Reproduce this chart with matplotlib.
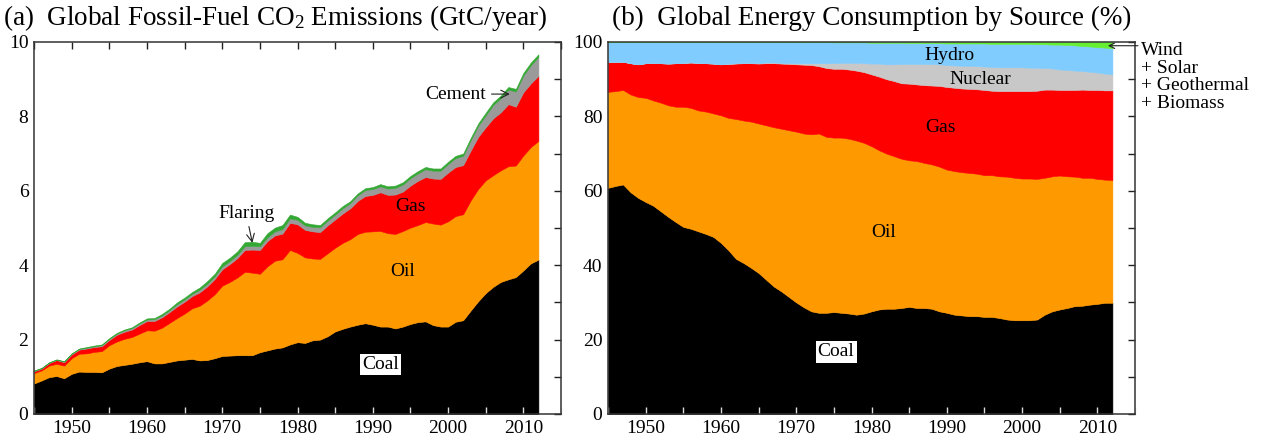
import numpy as np
import matplotlib
matplotlib.use('Agg')
import matplotlib.pyplot as plt
from matplotlib.ticker import MultipleLocator

plt.rcParams['font.family'] = ['Liberation Serif', 'DejaVu Serif']
plt.rcParams['mathtext.fontset'] = 'custom'
plt.rcParams['mathtext.rm'] = 'Liberation Serif'
plt.rcParams['mathtext.it'] = 'Liberation Serif:italic'

# ==================== data ====================
years = list(range(1945, 2013))

# (a) fossil-fuel CO2 emissions, GtC/year
coal = [0.82, 0.90, 0.99, 1.02, 0.96, 1.08, 1.14, 1.13, 1.13, 1.12,
        1.22, 1.29, 1.32, 1.35, 1.39, 1.42, 1.36, 1.36, 1.40, 1.44,
        1.46, 1.48, 1.44, 1.45, 1.50, 1.56, 1.57, 1.58, 1.58, 1.58,
        1.66, 1.71, 1.76, 1.79, 1.87, 1.93, 1.91, 1.98, 2.00, 2.09,
        2.22, 2.29, 2.35, 2.40, 2.44, 2.40, 2.35, 2.35, 2.30, 2.35,
        2.42, 2.47, 2.49, 2.39, 2.35, 2.35, 2.48, 2.52, 2.78, 3.03,
        3.25, 3.42, 3.55, 3.62, 3.68, 3.86, 4.05, 4.15]
oil = [0.28, 0.27, 0.31, 0.33, 0.34, 0.42, 0.48, 0.50, 0.54, 0.57,
       0.63, 0.66, 0.70, 0.72, 0.77, 0.83, 0.88, 0.96, 1.05, 1.14,
       1.24, 1.36, 1.47, 1.60, 1.72, 1.89, 1.98, 2.09, 2.24, 2.22,
       2.11, 2.26, 2.36, 2.37, 2.54, 2.40, 2.30, 2.20, 2.17, 2.23,
       2.25, 2.31, 2.35, 2.44, 2.46, 2.51, 2.57, 2.51, 2.54, 2.57,
       2.59, 2.61, 2.67, 2.73, 2.74, 2.83, 2.84, 2.85, 2.96, 3.02,
       3.03, 3.00, 3.00, 3.04, 3.00, 3.09, 3.13, 3.19]
gas = [0.05, 0.05, 0.07, 0.10, 0.09, 0.10, 0.11, 0.13, 0.13, 0.13,
       0.14, 0.18, 0.19, 0.20, 0.23, 0.25, 0.26, 0.28, 0.29, 0.31,
       0.32, 0.33, 0.36, 0.38, 0.41, 0.44, 0.48, 0.52, 0.59, 0.62,
       0.64, 0.68, 0.68, 0.69, 0.73, 0.77, 0.74, 0.73, 0.72, 0.75,
       0.76, 0.79, 0.83, 0.89, 0.96, 0.98, 1.04, 1.03, 1.06, 1.06,
       1.13, 1.19, 1.21, 1.21, 1.23, 1.31, 1.32, 1.32, 1.34, 1.40,
       1.43, 1.53, 1.56, 1.67, 1.58, 1.70, 1.71, 1.75]
cement = [0.01, 0.01, 0.01, 0.01, 0.02, 0.02, 0.02, 0.02, 0.02, 0.03,
          0.03, 0.03, 0.04, 0.04, 0.04, 0.04, 0.05, 0.05, 0.05, 0.06,
          0.06, 0.06, 0.07, 0.07, 0.07, 0.08, 0.08, 0.09, 0.10, 0.10,
          0.10, 0.10, 0.11, 0.12, 0.12, 0.12, 0.12, 0.12, 0.13, 0.13,
          0.13, 0.14, 0.14, 0.15, 0.16, 0.16, 0.16, 0.17, 0.18, 0.19,
          0.20, 0.20, 0.21, 0.21, 0.22, 0.23, 0.24, 0.25, 0.28, 0.30,
          0.32, 0.36, 0.38, 0.39, 0.41, 0.45, 0.49, 0.51]
flaring = [0.01, 0.01, 0.01, 0.01, 0.01, 0.01, 0.01, 0.02, 0.02, 0.02,
           0.02, 0.02, 0.02, 0.02, 0.03, 0.03, 0.03, 0.04, 0.04, 0.05,
           0.05, 0.05, 0.06, 0.07, 0.07, 0.09, 0.09, 0.09, 0.11, 0.11,
           0.09, 0.11, 0.10, 0.11, 0.10, 0.08, 0.07, 0.07, 0.06, 0.06,
           0.06, 0.06, 0.05, 0.05, 0.05, 0.05, 0.06, 0.06, 0.06, 0.06,
           0.06, 0.06, 0.06, 0.06, 0.06, 0.06, 0.06, 0.06, 0.06, 0.06,
           0.07, 0.07, 0.07, 0.07, 0.07, 0.07, 0.07, 0.07]

# (b) share of global energy consumption, %
coal_pct = [60.8, 61.3, 61.7, 59.6, 58.1, 57.0, 56.0, 54.5, 53.0, 51.6,
            50.3, 49.8, 49.1, 48.4, 47.6, 46.0, 44.0, 41.7, 40.6, 39.3,
            37.9, 36.1, 34.3, 33.0, 31.5, 30.0, 28.7, 27.6, 27.2, 27.2,
            27.4, 27.2, 27.0, 26.7, 27.0, 27.6, 28.1, 28.3, 28.3, 28.5,
            28.8, 28.5, 28.5, 28.3, 27.6, 27.2, 26.7, 26.5, 26.3, 26.3,
            26.1, 26.1, 25.8, 25.4, 25.2, 25.2, 25.2, 25.4, 26.7, 27.6,
            28.1, 28.5, 29.0, 29.1, 29.4, 29.6, 29.9, 29.9]
oil_pct = [25.8, 25.5, 25.4, 26.3, 27.1, 28.0, 28.3, 29.2, 30.0, 31.0,
           32.3, 32.5, 32.5, 32.9, 33.2, 34.3, 35.6, 37.6, 38.3, 39.3,
           40.2, 41.5, 42.8, 43.7, 44.8, 45.9, 46.7, 47.6, 48.2, 47.3,
           46.9, 47.1, 47.0, 46.8, 45.9, 44.4, 42.8, 41.7, 41.0, 40.1,
           39.4, 39.5, 39.0, 38.8, 38.9, 38.5, 38.6, 38.5, 38.5, 38.3,
           38.1, 38.1, 38.1, 38.4, 38.3, 38.1, 38.1, 37.8, 36.8, 36.3,
           36.0, 35.4, 34.8, 34.4, 34.1, 33.6, 33.1, 33.0]
gas_pct = [8.1, 7.9, 7.6, 8.4, 8.8, 9.3, 10.1, 10.6, 11.2, 11.7,
           11.8, 12.2, 12.8, 13.0, 13.4, 13.7, 14.5, 14.9, 15.4, 15.7,
           16.1, 16.7, 17.2, 17.5, 17.8, 18.1, 18.5, 18.6, 18.1, 18.5,
           18.5, 18.5, 18.6, 18.8, 19.0, 19.3, 19.8, 20.0, 20.2, 20.3,
           20.6, 20.6, 20.9, 21.2, 21.7, 22.2, 22.4, 22.5, 22.6, 22.7,
           22.9, 22.7, 22.9, 23.0, 23.3, 23.5, 23.5, 23.7, 23.7, 23.3,
           23.0, 23.2, 23.3, 23.7, 23.6, 23.9, 24.0, 24.1]
nuclear_pct = [0.0, 0.0, 0.0, 0.0, 0.0, 0.0, 0.0, 0.0, 0.0, 0.0,
               0.0, 0.0, 0.0, 0.0, 0.0, 0.0, 0.1, 0.1, 0.1, 0.1,
               0.1, 0.2, 0.2, 0.2, 0.2, 0.3, 0.4, 0.5, 0.8, 1.3,
               1.5, 1.6, 1.8, 2.1, 2.4, 2.9, 3.5, 4.0, 4.5, 5.2,
               5.3, 5.5, 5.7, 5.8, 5.8, 5.9, 6.0, 6.1, 6.2, 6.2,
               6.3, 6.4, 6.4, 6.4, 6.4, 6.4, 6.3, 6.2, 5.8, 5.7,
               5.5, 5.4, 5.2, 5.0, 4.9, 4.7, 4.5, 4.3]
hydro_pct = [5.3, 5.3, 5.3, 5.7, 6.0, 5.7, 5.6, 5.7, 5.8, 5.7,
             5.6, 5.5, 5.6, 5.7, 5.8, 6.0, 5.8, 5.7, 5.6, 5.6,
             5.7, 5.5, 5.5, 5.6, 5.7, 5.7, 5.6, 5.7, 5.7, 5.7,
             5.6, 5.5, 5.5, 5.5, 5.6, 5.6, 5.6, 5.8, 5.8, 5.7,
             5.6, 5.6, 5.6, 5.6, 5.7, 5.8, 5.9, 6.0, 6.0, 6.1,
             6.2, 6.2, 6.3, 6.3, 6.3, 6.3, 6.4, 6.3, 6.4, 6.4,
             6.7, 6.7, 6.8, 6.7, 6.8, 6.8, 7.0, 7.0]
renew_pct = [0.0, 0.0, 0.0, 0.0, 0.0, 0.0, 0.0, 0.0, 0.0, 0.0,
             0.0, 0.0, 0.0, 0.0, 0.0, 0.0, 0.0, 0.0, 0.0, 0.0,
             0.0, 0.0, 0.0, 0.0, 0.0, 0.05, 0.05, 0.05, 0.05, 0.05,
             0.1, 0.1, 0.1, 0.1, 0.1, 0.2, 0.2, 0.2, 0.2, 0.2,
             0.3, 0.3, 0.3, 0.3, 0.3, 0.4, 0.4, 0.4, 0.4, 0.4,
             0.45, 0.5, 0.5, 0.5, 0.5, 0.55, 0.55, 0.6, 0.6, 0.7,
             0.75, 0.85, 0.95, 1.1, 1.25, 1.4, 1.55, 1.7]

C_COAL = '#000000'
C_OIL = '#ff9900'
C_GAS = '#ff0000'
C_CEMENT = '#9a9a9a'
C_FLARE = '#33a833'
C_NUC = '#c8c8c8'
C_HYDRO = '#80ccff'
C_RENEW = '#66ee33'

FS = 14
TITLE_FS = 19.5


def stack(ax, series, colors):
    polys = ax.stackplot(years, *series, colors=colors, linewidth=0)
    for p, c in zip(polys, colors):
        p.set_edgecolor(c)
        p.set_linewidth(0.4)


def style_axes(ax, ymax, ymajor, yminor, top_ticks=True):
    ax.set_xlim(1945, 2015)
    ax.set_ylim(0, ymax)
    ax.xaxis.set_major_locator(MultipleLocator(10))
    ax.xaxis.set_minor_locator(MultipleLocator(5))
    ax.yaxis.set_major_locator(MultipleLocator(ymajor))
    ax.yaxis.set_minor_locator(MultipleLocator(yminor))
    for which in ('major', 'minor'):
        ax.tick_params(axis='x', which=which, direction='in', length=5, width=1,
                       bottom=True, top=False, color='#dddddd',
                       labelsize=FS, pad=4)
        ax.tick_params(axis='y', which=which, direction='in', length=5, width=1,
                       left=False, right=True, color='#222222',
                       labelsize=FS, pad=4)
    for s in ax.spines.values():
        s.set_color('#333333')
        s.set_linewidth(1.1)
    if top_ticks:
        sec = ax.secondary_xaxis('top')
        sec.xaxis.set_major_locator(MultipleLocator(10))
        sec.xaxis.set_minor_locator(MultipleLocator(5))
        sec.tick_params(which='both', direction='in', length=5, width=1,
                        color='#222222', labeltop=False)
        sec.spines['top'].set_visible(False)


fig = plt.figure(figsize=(12.61, 4.42), dpi=100)
ax1 = fig.add_axes([34 / 1261, 28 / 442, 527 / 1261, 372 / 442])
ax2 = fig.add_axes([608 / 1261, 28 / 442, 527 / 1261, 372 / 442])

# ---------- (a) ----------
stack(ax1, [coal, oil, gas, cement, flaring],
      [C_COAL, C_OIL, C_GAS, C_CEMENT, C_FLARE])
style_axes(ax1, 10, 2, 1)

ax1.text(1991, 1.33, 'Coal', fontsize=FS, ha='center', va='center',
         bbox=dict(facecolor='white', edgecolor='none', pad=1.5))
ax1.text(1994, 3.84, 'Oil', fontsize=FS, ha='center', va='center')
ax1.text(1995, 5.57, 'Gas', fontsize=FS, ha='center', va='center')
ax1.annotate('Flaring', xy=(1974, 4.6), xytext=(1973.2, 5.38),
             fontsize=FS, ha='center', va='center',
             arrowprops=dict(arrowstyle='->', color='#222222', lw=0.8,
                             shrinkA=1, shrinkB=0))
ax1.annotate('Cement', xy=(2008.2, 8.6), xytext=(2001.0, 8.6),
             fontsize=FS, ha='center', va='center',
             arrowprops=dict(arrowstyle='->', color='#222222', lw=0.8,
                             shrinkA=2, shrinkB=0))

# ---------- (b) ----------
stack(ax2, [coal_pct, oil_pct, gas_pct, nuclear_pct, hydro_pct, renew_pct],
      [C_COAL, C_OIL, C_GAS, C_NUC, C_HYDRO, C_RENEW])
style_axes(ax2, 100, 20, 10, top_ticks=False)

ax2.text(1975.3, 16.7, 'Coal', fontsize=FS, ha='center', va='center',
         bbox=dict(facecolor='white', edgecolor='none', pad=1.5))
ax2.text(1981.6, 48.9, 'Oil', fontsize=FS, ha='center', va='center')
ax2.text(1989.1, 77.0, 'Gas', fontsize=FS, ha='center', va='center')
ax2.text(1994.4, 90.0, 'Nuclear', fontsize=FS, ha='center', va='center')
ax2.text(1990.3, 96.4, 'Hydro', fontsize=FS, ha='center', va='center')
ax2.annotate('', xy=(2011.4, 99.0), xytext=(2015.4, 99.0),
             arrowprops=dict(arrowstyle='->', color='#222222', lw=0.8,
                             shrinkA=0, shrinkB=0))
ax2.text(1.011, 1.0, 'Wind\n+ Solar\n+ Geothermal\n+ Biomass',
         transform=ax2.transAxes, fontsize=FS, ha='left', va='top',
         linespacing=1.05)

fig.text(3 / 1261, 1 - 18 / 442,
         '(a)  Global Fossil-Fuel CO$_\\mathrm{2}$ Emissions (GtC/year)',
         fontsize=TITLE_FS, ha='left', va='center')
fig.text(612 / 1261, 1 - 18 / 442,
         '(b)  Global Energy Consumption by Source (%)',
         fontsize=TITLE_FS, ha='left', va='center')

fig.savefig('out.png', dpi=100)
